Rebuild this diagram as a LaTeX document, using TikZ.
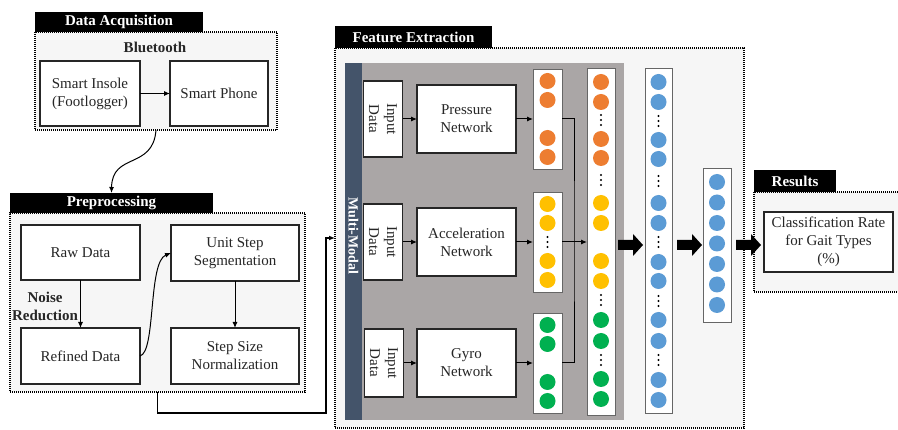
\documentclass[tikz,border=0pt]{standalone}
\usepackage{fontspec}
\setmainfont{Liberation Serif}
\usetikzlibrary{arrows.meta}

\definecolor{dotorange}{HTML}{ED7D31}
\definecolor{dotyellow}{HTML}{FFC000}
\definecolor{dotgreen}{HTML}{00B050}
\definecolor{dotblue}{HTML}{5B9BD5}
\definecolor{slatebar}{HTML}{44546A}
\definecolor{panelgray}{RGB}{170,166,166}
\definecolor{zonefill}{RGB}{246,246,246}
\definecolor{inkgray}{RGB}{38,38,38}

% three stacked dots inside a neuron column
\newcommand\colellipsis[2]{%
  \fill (#1,#2-5) circle (1.2pt);
  \fill (#1,#2) circle (1.2pt);
  \fill (#1,#2+5) circle (1.2pt);}

\begin{document}
\begin{tikzpicture}[x=1pt,y=-1pt,
  font=\fontsize{15}{18}\selectfont,
  every node/.style={inner sep=0pt, outer sep=0pt},
  zone/.style={draw=black, fill=zonefill, line width=1.5pt, dash pattern=on 1pt off 1pt},
  zoneline/.style={draw=black, line width=1.5pt, dash pattern=on 1pt off 1pt},
  titlebar/.style={fill=black, text=white, font=\fontsize{15}{18}\selectfont\bfseries},
  block/.style={draw=inkgray, fill=white, line width=1.2pt, text=inkgray, align=center},
  inbox/.style={block, rotate=-90},
  column/.style={draw=gray!80!black, fill=white, line width=0.9pt},
  conn/.style={line width=1pt, -{Latex[length=6pt,width=5pt]}},
  wire/.style={line width=1pt},
  fatarrow/.pic={\fill[black] (0,-5) -- (15,-5) -- (15,-11) -- (25,0) -- (15,11) -- (15,5) -- (0,5) -- cycle;}
]
\useasboundingbox (0,0) rectangle (898,430);

% ---------- Data acquisition ----------
\node[zone, minimum width=242pt, minimum height=98pt] (daBox) at (156,81) {};
\node[titlebar, minimum width=168pt, minimum height=20pt] (daT) at (119,22) {Data Acquisition};
\node[font=\fontsize{15}{18}\selectfont\bfseries, text=inkgray] (bt) at (155,47) {Bluetooth};
\node[block, minimum width=100pt, minimum height=65pt] (insole) at (90,93.5) {Smart Insole\\(Footlogger)};
\node[block, minimum width=98pt, minimum height=65pt] (phone) at (219,93.5) {Smart Phone};
\draw[conn] (insole) -- (phone);

% ---------- Preprocessing ----------
\node[zone, minimum width=295pt, minimum height=179pt] (preBox) at (157.5,302.5) {};
\node[titlebar, minimum width=203pt, minimum height=20pt] (preT) at (111.5,203) {Preprocessing};
\node[block, minimum width=119pt, minimum height=55pt] (raw) at (80.5,252.5) {Raw Data};
\node[block, minimum width=128pt, minimum height=56pt] (unit) at (235,253) {Unit Step\\Segmentation};
\node[block, minimum width=119pt, minimum height=56pt] (refined) at (80.5,356) {Refined Data};
\node[block, minimum width=128pt, minimum height=56pt] (stepsz) at (235,356) {Step Size\\Normalization};
\draw[conn] (raw) -- (refined);
\draw[conn] (unit) -- (stepsz);
\draw[conn] (refined.east) .. controls (156,352) and (148,262) .. (unit.west);
\node[font=\fontsize{15}{18}\selectfont\bfseries, text=inkgray, align=center] (noise) at (45,306) {Noise\\Reduction};

\draw[conn] (daBox.south) .. controls (153,170) and (112,152) .. (preT.north);

% ---------- Feature extraction ----------
\node[zone, minimum width=409pt, minimum height=380pt] (featBox) at (539.5,238) {};
\node[titlebar, minimum width=157pt, minimum height=22pt] (feT) at (413.5,37) {Feature Extraction};
\node[fill=panelgray, minimum width=279pt, minimum height=357pt] (panel) at (484.5,241.5) {};
\node[fill=slatebar, minimum width=17pt, minimum height=357pt] (mm) at (353.5,241.5) {};
\node[rotate=-90, text=white, font=\fontsize{14}{16}\selectfont\bfseries] (mmlabel) at (353.5,236) {Multi-Modal};

\draw[conn, line width=1.3pt] (preBox.south) -- ++(0,21) -| ([xshift=-9pt]featBox.west) -- (featBox.west);

% input blocks
\node[inbox, minimum width=76pt, minimum height=39pt] (in1) at (383,119) {Input\\Data};
\node[inbox, minimum width=76pt, minimum height=39pt] (in2) at (383,242) {Input\\Data};
\node[inbox, minimum width=68pt, minimum height=39pt] (in3) at (384,363) {Input\\Data};

% sensor networks
\node[block, minimum width=99pt, minimum height=68pt] (pn) at (466.5,119) {Pressure\\Network};
\node[block, minimum width=99pt, minimum height=68pt] (an) at (466.5,242) {Acceleration\\Network};
\node[block, minimum width=99pt, minimum height=68pt] (gn) at (466.5,363) {Gyro\\Network};

% per-sensor feature columns
\node[column, minimum width=29pt, minimum height=100pt] (cO) at (547.5,119) {};
\node[column, minimum width=29pt, minimum height=100pt] (cY) at (547.5,242) {};
\node[column, minimum width=29pt, minimum height=100pt] (cG) at (547.5,363) {};

\draw[conn] (in1) -- (pn);
\draw[conn] (in2) -- (an);
\draw[conn] (in3) -- (gn);
\draw[conn] (pn) -- (cO);
\draw[conn] (an) -- (cY);
\draw[conn] (gn) -- (cG);

\foreach \y in {81,100,138,157} \fill[dotorange] (547.5,\y) circle (8pt);
\foreach \y in {204,223,261,280} \fill[dotyellow] (547.5,\y) circle (8pt);
\colellipsis{547.5}{242}
\foreach \y in {325,344,382,401} \fill[dotgreen] (547.5,\y) circle (8pt);

% concatenated column
\node[column, minimum width=28pt, minimum height=347pt] (cat) at (601,241.5) {};
\coordinate (jx) at (574,242);
\draw[wire] (cO.east) -| (jx) |- (cG.east);
\draw[conn] (cY.east) -- (cY.east -| cat.west);

\foreach \y in {82,102,139,158} \fill[dotorange] (601,\y) circle (8pt);
\foreach \y in {203,223,261,281} \fill[dotyellow] (601,\y) circle (8pt);
\foreach \y in {320,341,379,399} \fill[dotgreen] (601,\y) circle (8pt);
\colellipsis{601}{120}
\colellipsis{601}{180}
\colellipsis{601}{300}
\colellipsis{601}{360}

% fused layers
\node[column, minimum width=27pt, minimum height=345pt] (b1) at (658.5,240.5) {};
\foreach \y in {82,102,140,159,203,223,262,281,320,341,380,400} \fill[dotblue] (658.5,\y) circle (8pt);
\foreach \y in {121,181,242,301,360} {\colellipsis{658.5}{\y}}

\node[column, minimum width=28pt, minimum height=154pt] (b2) at (717,245) {};
\foreach \y in {182,202.5,223,243.5,264,284.5,305} \fill[dotblue] (717,\y) circle (8pt);

% ---------- Results ----------
\path[fill=zonefill] (754,192) rectangle (898,292);
\draw[zoneline] (898,192) -- (754,192) -- (754,292) -- (898,292);
\node[titlebar, minimum width=82pt, minimum height=22pt] (resT) at (795,181) {Results};
\node[block, minimum width=129pt, minimum height=60pt] (cls) at (828.5,242) {Classification Rate\\for Gait Types\\(\%)};

% block arrows between stages
\pic at ([xshift=3pt]cat.east |- b2.west) {fatarrow};
\pic at ([xshift=5pt]b1.east |- b2.west) {fatarrow};
\pic at ([xshift=5pt]b2.east) {fatarrow};
\end{tikzpicture}
\end{document}
